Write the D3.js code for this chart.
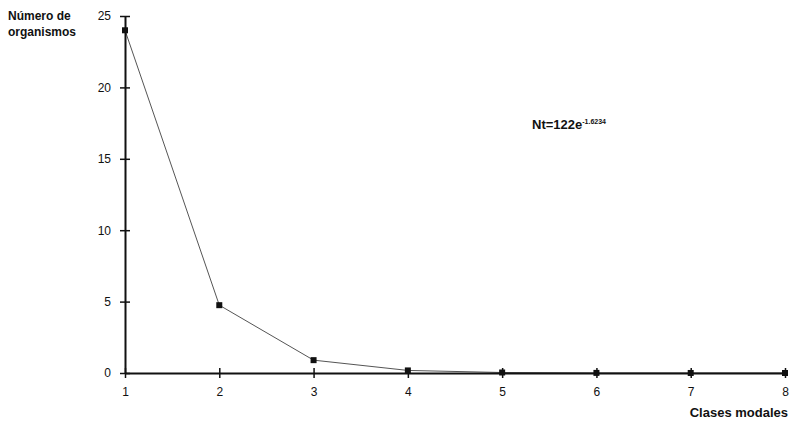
<!DOCTYPE html>
<html>
<head>
<meta charset="utf-8">
<script src="https://cdn.jsdelivr.net/npm/d3@7"></script>
<style>
  body { margin: 0; background: #fff; }
  svg { font-family: "Liberation Sans", Arial, sans-serif; }
</style>
</head>
<body>
<svg width="790" height="428"></svg>
<script>
// data
var clases = [1, 2, 3, 4, 5, 6, 7, 8];
var organismos = [24, 4.75, 0.9, 0.18, 0.035, 0.007, 0.0015, 0.0003];
var yTicks = [0, 5, 10, 15, 20, 25];

var svg = d3.select("svg"),
    margin = {top: 16, right: 5, bottom: 55, left: 125},
    width = +svg.attr("width") - margin.left - margin.right,
    height = +svg.attr("height") - margin.top - margin.bottom,
    g = svg.append("g").attr("transform", "translate(" + margin.left + "," + margin.top + ")");

var x = d3.scaleLinear().domain([1, 8]).range([0, width]),
    y = d3.scaleLinear().domain([0, 25]).range([height, 0]);

var pts = clases.map(function(c, i) { return {c: c, v: organismos[i]}; });

// data line
var line = d3.line()
    .x(function(d) { return x(d.c); })
    .y(function(d) { return y(d.v); });

g.append("path")
    .datum(pts)
    .attr("d", line)
    .attr("fill", "none")
    .attr("stroke", "#555")
    .attr("stroke-width", 1);

// axes
var xAxis = g.append("g")
    .attr("transform", "translate(0," + height + ")")
    .call(d3.axisBottom(x).tickValues(clases).tickFormat(d3.format("d")).tickSize(5).tickSizeOuter(0));
var yAxis = g.append("g")
    .call(d3.axisLeft(y).tickValues(yTicks).tickSize(5).tickSizeOuter(0));

[xAxis, yAxis].forEach(function(a) {
  a.select(".domain").attr("stroke", "#111").attr("stroke-width", 2);
  a.selectAll(".tick line").attr("stroke", "#111").attr("stroke-width", 1.5);
  a.selectAll(".tick text").attr("fill", "#111").style("font-size", "12px");
});
// ticks cross the axis line
xAxis.selectAll(".tick line").attr("y1", -5).attr("y2", 5);
xAxis.selectAll(".tick text").attr("y", 14);
yAxis.selectAll(".tick line").attr("x1", -5).attr("x2", 5);
yAxis.selectAll(".tick text").attr("x", -14);

// markers
g.selectAll(".pt")
  .data(pts)
  .enter().append("rect")
    .attr("class", "pt")
    .attr("x", function(d) { return x(d.c) - 3; })
    .attr("y", function(d) { return y(d.v) - 3; })
    .attr("width", 6)
    .attr("height", 6)
    .attr("fill", "#111");

// labels
var yl = svg.append("text")
    .attr("x", 8).attr("y", 20)
    .attr("font-weight", "bold").style("font-size", "12px").attr("fill", "#111");
yl.append("tspan").attr("x", 8).attr("dy", 0).text("Número de");
yl.append("tspan").attr("x", 8).attr("dy", 16).text("organismos");

svg.append("text")
    .attr("x", 788).attr("y", 417)
    .attr("text-anchor", "end")
    .attr("font-weight", "bold").style("font-size", "13px").attr("fill", "#111")
    .text("Clases modales");

var eq = svg.append("text")
    .attr("x", 532).attr("y", 129)
    .attr("font-weight", "bold").style("font-size", "13px").attr("fill", "#111");
eq.append("tspan").text("Nt=122e");
eq.append("tspan").attr("dy", -5).style("font-size", "7px").text("-1.6234");
</script>
</body>
</html>
